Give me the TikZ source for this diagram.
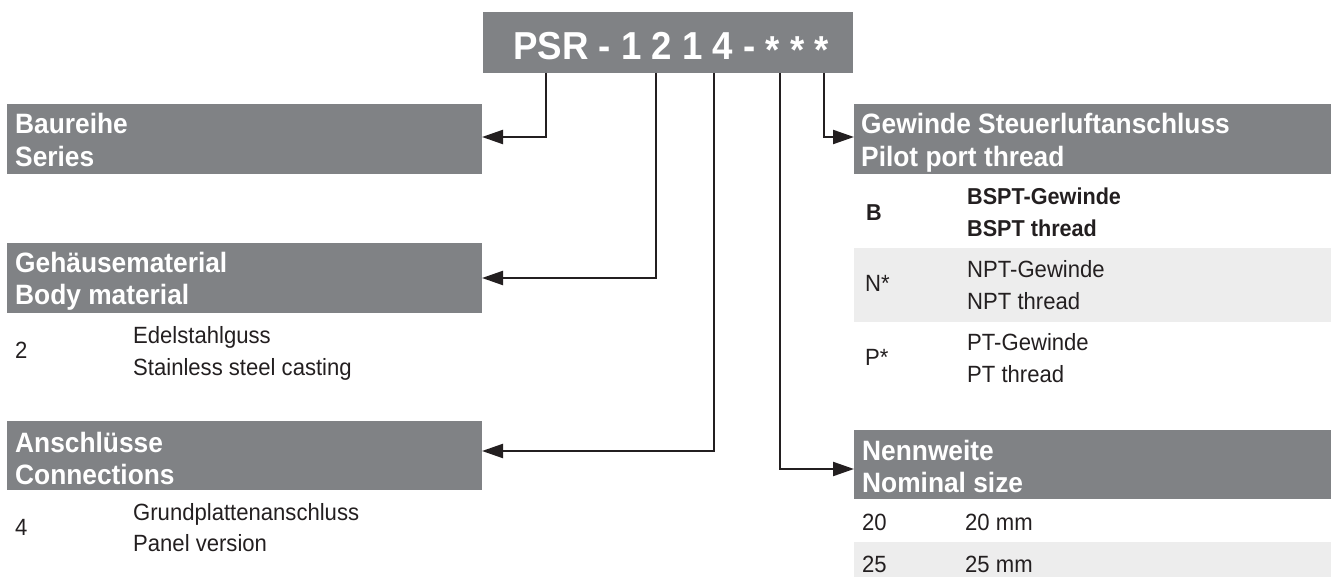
\documentclass[tikz,border=0pt]{standalone}
\usepackage{fontspec}
\setmainfont[FakeStretch=0.94]{Liberation Sans}
\usetikzlibrary{arrows.meta}
\definecolor{boxgray}{HTML}{808285}
\definecolor{rowgray}{HTML}{EDEDED}
\definecolor{ink}{HTML}{231F20}
\newcommand{\lowast}{\raisebox{-4pt}{*}}
\begin{document}
\begin{tikzpicture}[x=1pt,y=-1pt,
  hbox/.style={fill=boxgray, draw=none, inner sep=0pt, outer sep=0pt, anchor=north west},
  rowbox/.style={fill=rowgray, draw=none, inner sep=0pt, outer sep=0pt, anchor=north west},
  htxt/.style={anchor=base west, inner sep=0pt, text=white, font=\bfseries\fontsize{28}{33}\selectfont},
  ttxt/.style={anchor=base west, inner sep=0pt, text=white, font=\bfseries\fontsize{39}{44}\selectfont},
  rtxt/.style={anchor=base west, inner sep=0pt, text=ink, font=\fontsize{23.5}{28}\selectfont},
  btxt/.style={anchor=base west, inner sep=0pt, text=ink, font=\bfseries\fontsize{23}{28}\selectfont},
  conn/.style={draw=ink, line width=2.2pt, -{Triangle[length=21pt,width=14pt]}},
]
\useasboundingbox (0,0) rectangle (1336,577);

% title
\node[hbox, minimum width=370pt, minimum height=61pt] (title) at (483,12) {};
\node[ttxt] (titleT) at (513,60) {PSR - 1 2 1 4 - \lowast\ \lowast\ \lowast};

% left boxes
\node[hbox, minimum width=475pt, minimum height=70pt] (ser) at (7,104) {};
\node[htxt] (serA) at (15,134) {Baureihe};
\node[htxt] (serB) at (15,167) {Series};

\node[hbox, minimum width=475pt, minimum height=70pt] (mat) at (7,243) {};
\node[htxt] (matA) at (15,273) {Gehäusematerial};
\node[htxt] (matB) at (15,305) {Body material};
\node[rtxt] (mat2) at (15,359) {2};
\node[rtxt] (mat2a) at (133,343) {Edelstahlguss};
\node[rtxt] (mat2b) at (133,375) {Stainless steel casting};

\node[hbox, minimum width=475pt, minimum height=69pt] (con) at (7,421) {};
\node[htxt] (conA) at (15,452) {Anschlüsse};
\node[htxt] (conB) at (15,484) {Connections};
\node[rtxt] (con4) at (15,535) {4};
\node[rtxt] (con4a) at (133,520) {Grundplattenanschluss};
\node[rtxt] (con4b) at (133,551) {Panel version};

% right boxes
\node[hbox, minimum width=477pt, minimum height=70pt] (thr) at (854,104) {};
\node[htxt] (thrA) at (861,134) {Gewinde Steuerluftanschluss};
\node[htxt] (thrB) at (861,167) {Pilot port thread};
\node[btxt] (thrB1) at (866,221) {B};
\node[btxt] (thrB2) at (967,205) {BSPT-Gewinde};
\node[btxt] (thrB3) at (967,237) {BSPT thread};
\node[rowbox, minimum width=477pt, minimum height=74pt] (rowN) at (854,248) {};
\node[rtxt] (thrN1) at (865,292) {N*};
\node[rtxt] (thrN2) at (967,278) {NPT-Gewinde};
\node[rtxt] (thrN3) at (967,310) {NPT thread};
\node[rtxt] (thrP1) at (865,365) {P*};
\node[rtxt] (thrP2) at (967,351) {PT-Gewinde};
\node[rtxt] (thrP3) at (967,382) {PT thread};

\node[hbox, minimum width=477pt, minimum height=69pt] (nom) at (854,430) {};
\node[htxt] (nomA) at (862,460) {Nennweite};
\node[htxt] (nomB) at (862,492) {Nominal size};
\node[rtxt] (nom20a) at (862,530) {20};
\node[rtxt] (nom20b) at (965,530) {20 mm};
\node[rowbox, minimum width=477pt, minimum height=35pt] (row25) at (854,542) {};
\node[rtxt] (nom25a) at (862,572) {25};
\node[rtxt] (nom25b) at (965,572) {25 mm};

% connector start points on the title box
\coordinate (p1) at ([xshift=63pt]title.south west);
\coordinate (p2) at ([xshift=173pt]title.south west);
\coordinate (p3) at ([xshift=231pt]title.south west);
\coordinate (p4) at ([xshift=297pt]title.south west);
\coordinate (p5) at ([xshift=341pt]title.south west);

\draw[conn] (p1) |- ([yshift=2pt]ser.east);
\draw[conn] (p2) |- (mat.east);
\draw[conn] (p3) |- ([yshift=4.5pt]con.east);
\draw[conn] (p4) |- ([yshift=-4.5pt]nom.west);
\draw[conn] (p5) |- ([yshift=2pt]thr.west);
\end{tikzpicture}
\end{document}
